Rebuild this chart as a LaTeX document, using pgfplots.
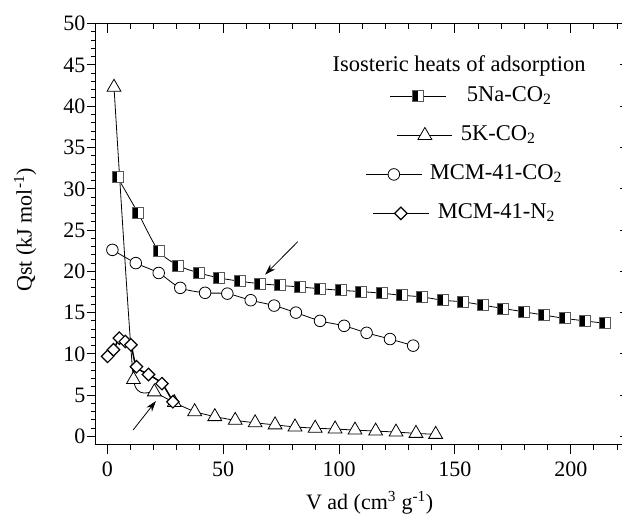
\documentclass[border=0pt]{standalone}
\usepackage{fontspec}
\setmainfont{Liberation Serif}
\usepackage{pgfplots}
\pgfplotsset{compat=1.18}
\usetikzlibrary{plotmarks,arrows.meta}

\pgfdeclareplotmark{lhsquare}{%
  \pgfpathrectangle{\pgfqpoint{-\pgfplotmarksize}{-\pgfplotmarksize}}{\pgfqpoint{2\pgfplotmarksize}{2\pgfplotmarksize}}%
  \pgfsetfillcolor{white}\pgfusepath{fill}%
  \pgfpathrectangle{\pgfqpoint{-\pgfplotmarksize}{-\pgfplotmarksize}}{\pgfqpoint{\pgfplotmarksize}{2\pgfplotmarksize}}%
  \pgfsetfillcolor{black}\pgfusepath{fill}%
  \pgfpathrectangle{\pgfqpoint{-\pgfplotmarksize}{-\pgfplotmarksize}}{\pgfqpoint{2\pgfplotmarksize}{2\pgfplotmarksize}}%
  \pgfusepath{stroke}%
}

\pgfplotstableread{
x y
4.4 31.4
13.2 27.1
22.1 22.5
30.7 20.7
39.7 19.8
48.3 19.2
57.3 18.8
65.9 18.5
74.6 18.3
83.2 18.1
91.8 17.9
100.7 17.7
109.3 17.55
118.4 17.35
127 17.1
135.9 16.9
144.7 16.5
153.6 16.3
162.2 15.9
170.8 15.5
179.7 15.1
188.5 14.7
197.4 14.3
206 14.0
214.8 13.7
}\naco

\pgfplotstableread{
x y
2.9 42.3
11.3 6.9
20.3 5.4
28.9 4.1
37.7 3.0
46.4 2.4
55.2 1.95
63.8 1.65
72.4 1.4
81 1.15
89.7 1.0
98.3 0.9
106.9 0.77
115.8 0.65
124.6 0.53
133.2 0.37
141.7 0.25
}\kco

\pgfplotstableread{
x y
2.2 22.6
12.3 21.0
22.2 19.8
31.5 18.0
42.2 17.4
51.8 17.3
61.9 16.5
72 15.85
81.4 15.0
91.8 14.0
102.2 13.4
111.9 12.55
122 11.8
132 11.0
}\mcmco

\pgfplotstableread{
x y
0.1 9.7
2.7 10.5
5.2 11.9
7.8 11.5
10.2 11.1
12.6 8.45
17.8 7.5
23.6 6.4
28.3 4.2
}\mcmn

\begin{document}
\fontsize{22}{26}\selectfont
\begin{tikzpicture}
\pgfplotsset{
  base/.style={
    width=533pt,height=421pt,scale only axis,
    xmin=-5,xmax=225,ymin=-1,ymax=50,
    xtick={0,50,...,200}, ytick={0,5,...,50},
    minor xtick={0,10,...,220}, minor ytick={0,1,...,50},
    major tick length=9pt, minor tick length=5pt,
    axis line style={line width=1.3pt},
    every tick/.style={black, line width=1pt},
    /pgf/number format/assume math mode=true,
    ticklabel style={font=\fontsize{22}{26}\selectfont},
    label style={font=\fontsize{23}{27}\selectfont},
  },
  legimg/.style={legend image code/.code={\draw[mark repeat=2,mark phase=2,xshift=#1] plot coordinates {(0pt,0pt) (27.5pt,0pt) (55pt,0pt)};}},
}
\begin{axis}[base, xtick pos=right, ytick pos=right, tick align=inside,
  xticklabels={}, yticklabels={}]
\end{axis}
\begin{axis}[base, xtick pos=left, ytick pos=left, tick align=outside,
  yticklabel style={inner xsep=1pt},
  xticklabel style={inner ysep=8pt},
  xlabel={V ad (cm\textsuperscript{3} g\textsuperscript{-1})},
  ylabel={Qst (kJ mol\textsuperscript{-1})},
  every axis x label/.style={at={(axis description cs:0.514,-0.138)},anchor=center},
  every axis y label/.style={at={(axis description cs:-0.1326,0.51)},rotate=90,anchor=center},
  legend cell align=left,
  legend style={draw=none, fill=none, inner sep=0pt, outer sep=0pt,
    at={(axis description cs:0.5071,0.8534)}, anchor=north west,
    column sep=2pt, row sep=17pt,
    font=\fontsize{22.5}{26}\selectfont,
    nodes={inner sep=0pt, text height=16pt, text depth=6pt}},
]
\addplot[black, line width=0.8pt, smooth, legimg=-7pt,
  mark=lhsquare, mark size=5.5pt,
  mark options={solid, draw=black!65, line width=0.9pt}]
  table[x=x,y=y] {\naco};
\addlegendentry{\hspace*{12pt}5Na-CO\textsubscript{2}}
\addplot[black, line width=0.8pt, smooth, tension=0.25, legimg=0pt,
  mark=triangle*, mark size=8pt,
  mark options={solid, fill=white, draw=black, line width=0.8pt}]
  table[x=x,y=y] {\kco};
\addlegendentry{\hspace*{6pt}5K-CO\textsubscript{2}}
\addplot[black, line width=0.8pt, smooth, legimg=-31pt,
  mark=*, mark size=5.8pt,
  mark options={solid, fill=white, draw=black, line width=0.8pt}]
  table[x=x,y=y] {\mcmco};
\addlegendentry{\hspace*{-25pt}MCM-41-CO\textsubscript{2}}
\addplot[black, line width=1.5pt, smooth, legimg=-24pt,
  mark=square*, mark size=4.4pt,
  mark options={solid, fill=white, draw=black, line width=1.2pt, rotate=45}]
  table[x=x,y=y] {\mcmn};
\addlegendentry{\hspace*{-17pt}MCM-41-N\textsubscript{2}}
\node[anchor=base, font=\fontsize{22.5}{26}\selectfont] at (axis description cs:0.6819,0.8867) {Isosteric heats of adsorption};
\draw[-{Stealth[length=11pt,width=7pt]}, line width=0.8pt] (axis cs:82.2,23.6) -- (axis cs:68.1,19.6);
\draw[-{Stealth[length=11pt,width=7pt]}, line width=0.8pt] (axis cs:11.2,0.8) -- (axis cs:21.0,4.3);
\end{axis}
\pgfresetboundingbox
\path (-95.7pt,-72pt) rectangle (526.3pt,444.7pt);
\end{tikzpicture}
\end{document}
